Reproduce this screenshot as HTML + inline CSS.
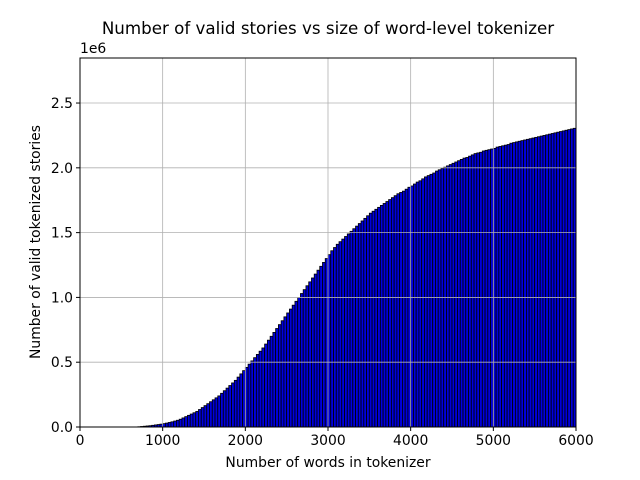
<!DOCTYPE html>
<html><head><meta charset="utf-8"><style>
body{margin:0;background:#fff;}
svg{display:block;font-family:"DejaVu Sans","Liberation Sans",sans-serif;}
</style></head><body>
<svg id="chart" width="640" height="480">
<text x="328" y="34" text-anchor="middle" font-size="16.7">Number of valid stories vs size of word-level tokenizer</text>
<text x="80" y="53" font-size="13.9">1e6</text>
<g id="bars"></g>
<g id="grid"></g>
<rect x="80" y="58" width="496" height="369" fill="none" stroke="#000" stroke-width="1"/>
<g id="ticks"></g>
<text x="328" y="467" text-anchor="middle" font-size="13.9">Number of words in tokenizer</text>
<text transform="translate(40,242) rotate(-90)" text-anchor="middle" font-size="13.9">Number of valid tokenized stories</text>
</svg>
<script>
const xTicks=[0,1000,2000,3000,4000,5000,6000];
const yTicks=[0,0.5,1.0,1.5,2.0,2.5];
const yTickLabels=["0.0","0.5","1.0","1.5","2.0","2.5"];
const binWidth=6000/180;
const values=[
0,0,0,0,0,0,0,0,0,0,0,0,0,0,0,0,0,0,0,0,0,0.002,0.004,0.006,0.008,0.010,0.013,0.016,0.019,0.022,
0.026,0.03,0.035,0.04,0.046,0.052,0.06,0.07,0.08,0.09,0.10,0.11,0.12,0.135,0.15,0.165,0.18,0.195,0.21,0.225,0.24,0.26,0.28,0.30,0.32,0.34,0.36,0.385,0.41,0.435,
0.46,0.485,0.51,0.535,0.56,0.585,0.61,0.64,0.67,0.70,0.73,0.76,0.79,0.82,0.85,0.88,0.91,0.94,0.97,1.0,1.03,1.06,1.09,1.12,1.15,1.18,1.21,1.24,1.27,1.30,
1.33,1.36,1.385,1.41,1.43,1.45,1.47,1.49,1.51,1.53,1.55,1.57,1.59,1.61,1.63,1.65,1.665,1.68,1.695,1.71,1.725,1.74,1.755,1.77,1.785,1.80,1.81,1.82,1.835,1.85,
1.86,1.875,1.89,1.90,1.915,1.93,1.94,1.95,1.96,1.975,1.985,1.995,2.005,2.015,2.025,2.035,2.045,2.055,2.065,2.075,2.08,2.09,2.10,2.11,2.115,2.12,2.13,2.135,2.14,2.145,
2.15,2.16,2.165,2.17,2.175,2.18,2.19,2.195,2.20,2.205,2.21,2.215,2.22,2.225,2.23,2.235,2.24,2.245,2.25,2.255,2.26,2.265,2.27,2.275,2.28,2.285,2.29,2.295,2.30,2.305];
const NS="http://www.w3.org/2000/svg";
const X0=80,X1=576,Y0=427,Y1=58;
const xs=v=>X0+v/6000*(X1-X0);
const ys=v=>Y0-v/2.8475*(Y0-Y1);
const bars=document.getElementById('bars'),grid=document.getElementById('grid'),ticks=document.getElementById('ticks');
function mk(tag,attrs,parent){const e=document.createElementNS(NS,tag);for(const k in attrs)e.setAttribute(k,attrs[k]);parent.appendChild(e);return e;}
values.forEach((v,i)=>{
  if(v<=0)return;
  const x=xs(i*binWidth),w=xs((i+1)*binWidth)-x,y=ys(v);
  const r=mk('rect',{x:x,y:y,width:w,height:Y0-y,fill:'#0000dd',stroke:'#000','stroke-width':0.8},bars);
  
  
});
xTicks.forEach(t=>{
  const x=xs(t);
  const g=mk('line',{x1:x,x2:x,y1:Y1,y2:Y0,stroke:'#b0b0b0','stroke-width':0.8},grid);
  
  
  mk('line',{x1:x,x2:x,y1:Y0,y2:Y0+4,stroke:'#000'},ticks);
  const l=mk('text',{x:x,y:Y0+18,'text-anchor':'middle','font-size':13.9},ticks);
  l.textContent=t;
  
  
});
yTicks.forEach((t,i)=>{
  const y=ys(t);
  const g=mk('line',{x1:X0,x2:X1,y1:y,y2:y,stroke:'#b0b0b0','stroke-width':0.8},grid);
  
  
  mk('line',{x1:X0-4,x2:X0,y1:y,y2:y,stroke:'#000'},ticks);
  const l=mk('text',{x:X0-7,y:y+5,'text-anchor':'end','font-size':13.9},ticks);
  l.textContent=yTickLabels[i];
  
  
});
</script>
</body></html>
